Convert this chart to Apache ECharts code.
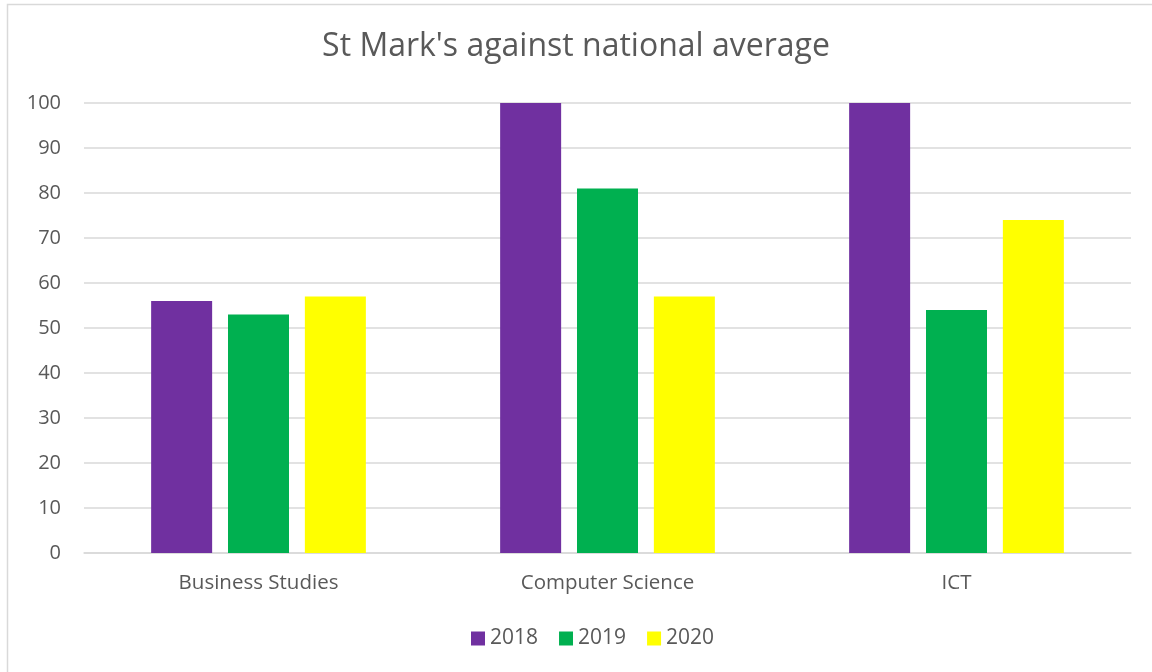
<!DOCTYPE html>
<html><head><meta charset="utf-8">
<script src="https://cdn.jsdelivr.net/npm/echarts@6/dist/echarts.min.js"></script>
<style>html,body{margin:0;padding:0;background:#fff}#c{width:1152px;height:672px}</style>
</head><body><div id="c"></div>
<script>
const categories = ['Business Studies', 'Computer Science', 'ICT'];
const s2018 = [56, 100, 100];
const s2019 = [53, 81, 54];
const s2020 = [57, 57, 74];
const yTicks = {min: 0, max: 100, interval: 10};
const font = '"Open Sans", "Noto Sans", sans-serif';
const chart = echarts.init(document.getElementById('c'));
chart.setOption({
  animation: false,
  backgroundColor: '#fff',
  graphic: [{type: 'rect', shape: {x: 7.5, y: 4.5, width: 1160, height: 680}, style: {fill: 'none', stroke: '#d9d9d9', lineWidth: 1.5}, silent: true}],
  title: {text: "St Mark's against national average", left: 'center', top: 26,
    textStyle: {fontFamily: font, fontSize: 32, fontWeight: 'normal', color: '#595959'}},
  legend: {bottom: 18, left: 466, itemWidth: 14, itemHeight: 14, itemGap: 21,
    icon: 'rect', textStyle: {fontFamily: font, fontSize: 21, color: '#595959'}},
  grid: {left: 84, right: 21, top: 103, bottom: 119, containLabel: false},
  xAxis: {type: 'category', data: categories,
    axisLine: {lineStyle: {color: '#d9d9d9', width: 1.5}}, axisTick: {show: false},
    axisLabel: {fontFamily: font, fontSize: 20.5, color: '#595959', margin: 20}},
  yAxis: {type: 'value', min: yTicks.min, max: yTicks.max, interval: yTicks.interval,
    axisLine: {show: false}, axisTick: {show: false},
    splitLine: {lineStyle: {color: '#d9d9d9', width: 1.5}},
    axisLabel: {fontFamily: font, fontSize: 20, color: '#595959', margin: 23}},
  series: [
    {name: '2018', type: 'bar', data: s2018, barWidth: 61, barGap: '26%', itemStyle: {color: '#7030A0'}},
    {name: '2019', type: 'bar', data: s2019, barWidth: 61, barGap: '26%', itemStyle: {color: '#00B050'}},
    {name: '2020', type: 'bar', data: s2020, barWidth: 61, barGap: '26%', itemStyle: {color: '#FFFF00'}}
  ]
});
</script></body></html>
